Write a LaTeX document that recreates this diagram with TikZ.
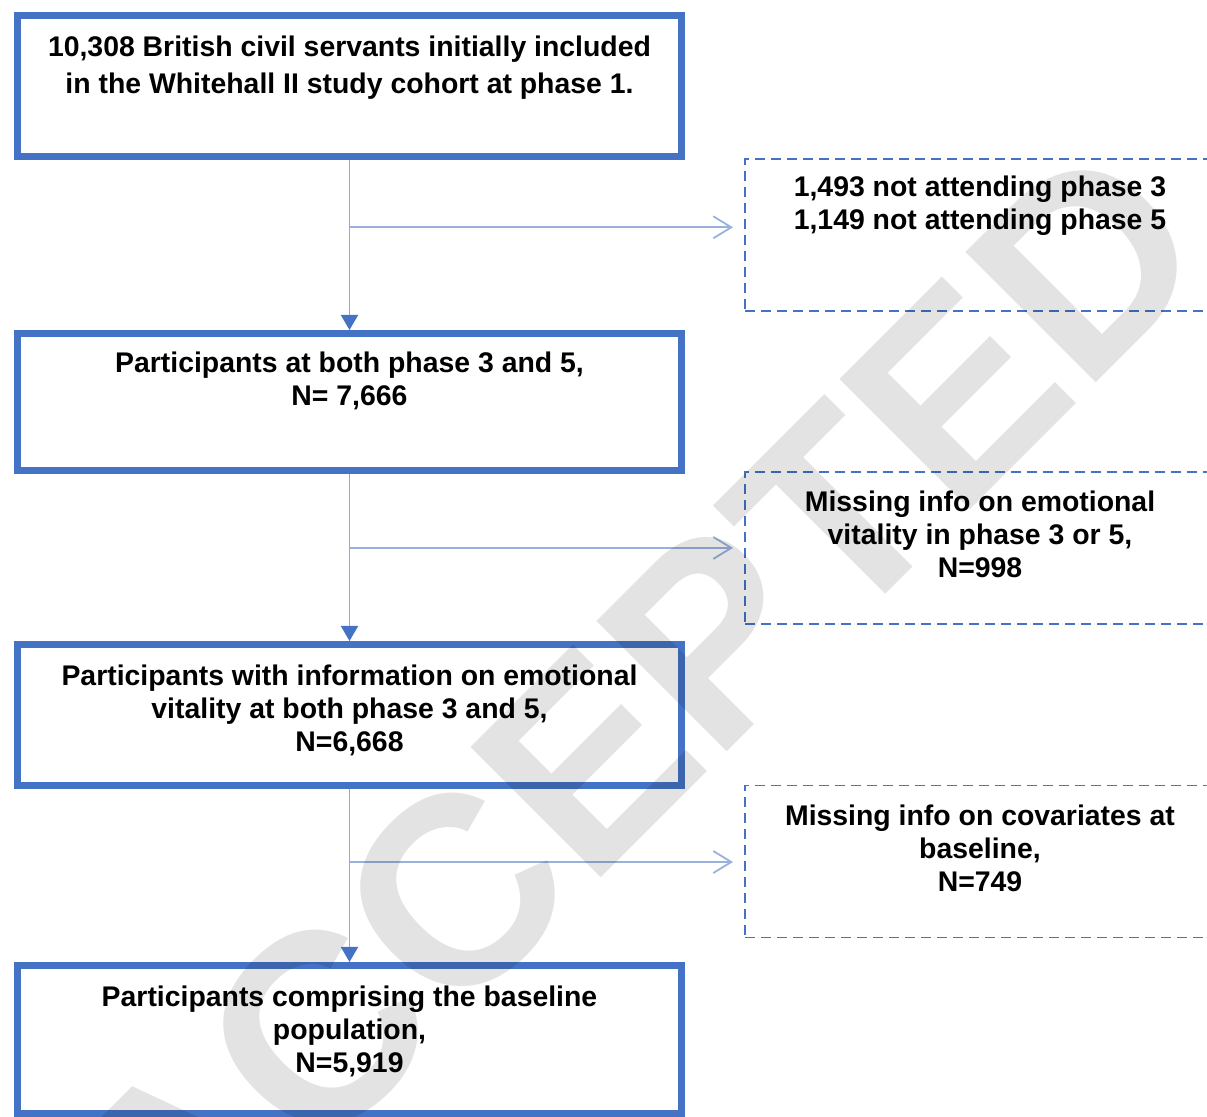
\documentclass[tikz,border=0pt]{standalone}
\usepackage{fontspec}
\setmainfont{Liberation Sans}
\usetikzlibrary{arrows.meta, positioning, calc}
\definecolor{boxblue}{HTML}{4472C4}

\begin{document}
\begin{tikzpicture}[
    x=0.5pt, y=-0.5pt,
    font=\fontsize{14.2}{16.5}\selectfont\bfseries,
    stage/.style={rectangle, draw=boxblue, line width=3.5pt, minimum width=332pt, inner sep=0pt, outer sep=0pt},
    excl/.style={rectangle, draw=boxblue, line width=0.9pt, dash pattern=on 5pt off 3pt, minimum width=235pt, minimum height=76pt, inner sep=0pt, outer sep=0pt},
    txt/.style={align=center, inner sep=0pt, anchor=north},
    flow/.style={-{Triangle[width=8.5pt, length=7.5pt, color=boxblue]}, draw=boxblue!60, line width=0.9pt, shorten <=1.75pt, shorten >=1.75pt},
    exit/.style={-{Straight Barb[length=9pt, width=11pt]}, draw=boxblue!55, line width=0.9pt, shorten >=6pt},
    watermark/.style={font=\fontsize{134}{134}\selectfont\bfseries, text=black, text opacity=0.11, inner sep=0pt}
  ]
    \path[use as bounding box, clip] (0,0) rectangle (1207,1117);

    \node[stage, minimum height=70.5pt] (b1) at (349.5,86) {};
    \node[stage, minimum height=68.5pt, below=88.5pt of b1] (b2) {};
    \node[stage, minimum height=70.5pt, below=87pt of b2] (b3) {};
    \node[stage, minimum height=74pt, below=90pt of b3] (b4) {};

    \node[txt, yshift=-10pt] (t1) at (b1.north)
    {10,308 British civil servants initially included\\[2pt]
     in the Whitehall II study cohort at phase 1.};
    \node[txt, yshift=-9.25pt] (t2) at (b2.north)
    {Participants at both phase 3 and 5,\\
     N= 7,666};
    \node[txt, yshift=-10pt] (t3) at (b3.north)
    {Participants with information on emotional\\
     vitality at both phase 3 and 5,\\
     N=6,668};
    \node[txt, yshift=-10pt] (t4) at (b4.north)
    {Participants comprising the baseline\\
     population,\\
     N=5,919};

    \node[excl, anchor=west] (s1) at (745,235) {};
    \node[excl, anchor=west] (s2) at (745,548) {};
    \node[excl, anchor=west] (s3) at (745,861.5) {};

    \node[txt, yshift=-8.5pt] (u1) at (s1.north)
    {1,493 not attending phase 3\\
     1,149 not attending phase 5};
    \node[txt, yshift=-9.5pt] (u2) at (s2.north)
    {Missing info on emotional\\
     vitality in phase 3 or 5,\\
     N=998};
    \node[txt, yshift=-9.5pt] (u3) at (s3.north)
    {Missing info on covariates at\\
     baseline,\\
     N=749};

    \draw[flow] (b1) -- (b2);
    \draw[flow] (b2) -- (b3);
    \draw[flow] (b3) -- (b4);

    \coordinate (j1) at ($(b1.south)!0.40!(b2.north)$);
    \coordinate (j2) at ($(b2.south)!0.445!(b3.north)$);
    \coordinate (j3) at ($(b3.south)!0.425!(b4.north)$);
    \draw[exit] (j1) -- (j1 -| s1.west);
    \draw[exit] (j2) -- (j2 -| s2.west);
    \draw[exit] (j3) -- (j3 -| s3.west);

    \node[watermark, rotate=45] (wm) at (634,715) {ACCEPTED};
  \end{tikzpicture}
\end{document}
